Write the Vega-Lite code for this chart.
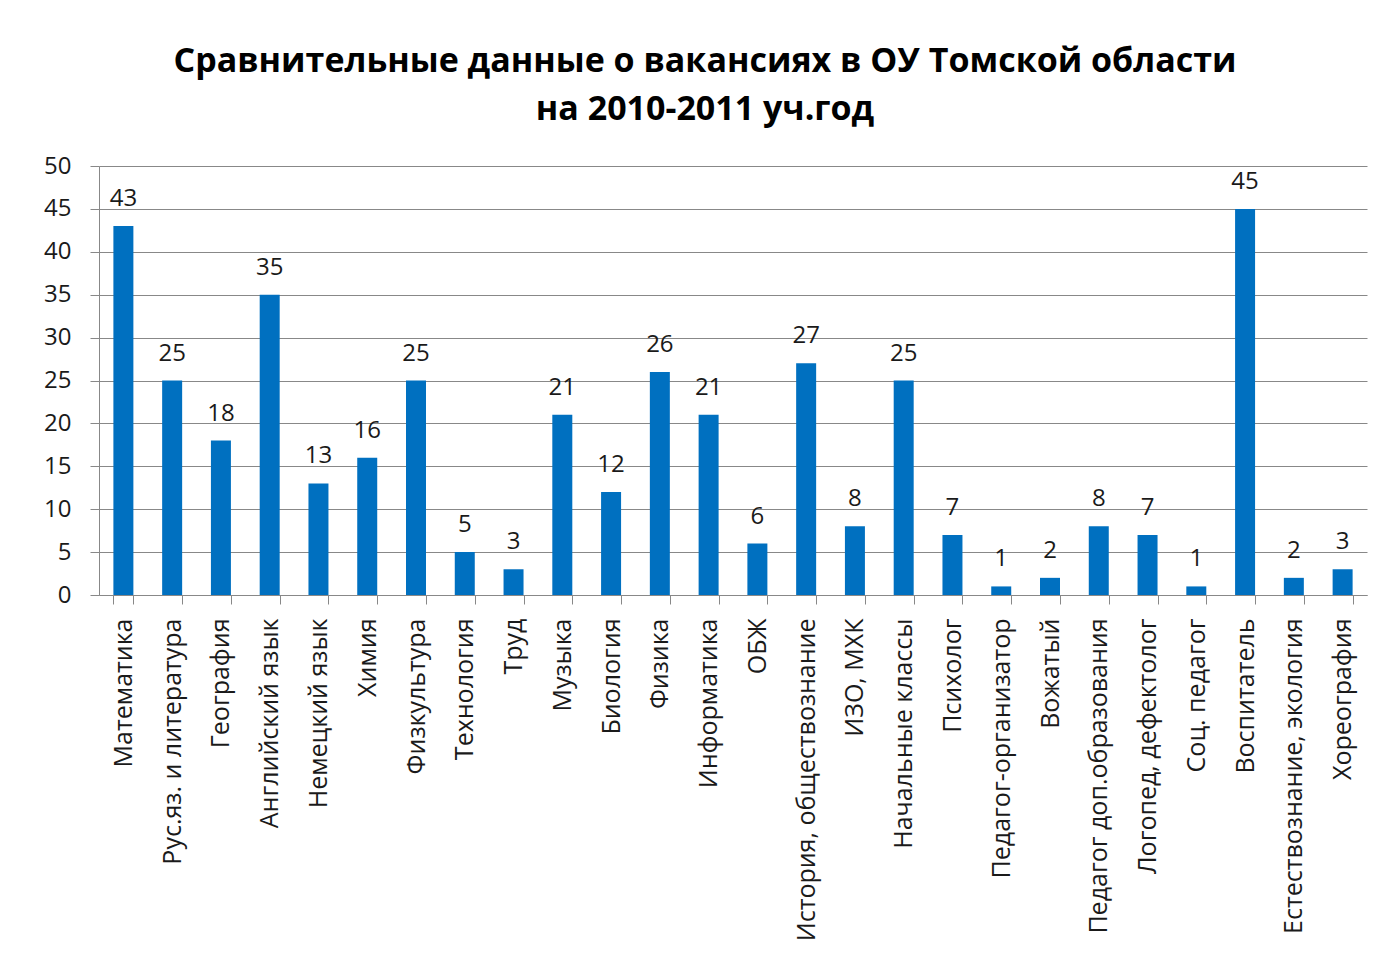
{
  "$schema": "https://vega.github.io/schema/vega-lite/v6.json",
  "autosize": "none",
  "width": 1268,
  "height": 429,
  "padding": {"left": 99, "top": 166, "right": 23, "bottom": 369},
  "background": "white",
  "config": {"view": {"stroke": null}, "font": "Open Sans"},
  "title": {
    "text": ["Сравнительные данные о вакансиях в ОУ Томской области", "на 2010-2011 уч.год"],
    "font": "Open Sans",
    "fontSize": 34,
    "fontWeight": "bold",
    "color": "#000000",
    "lineHeight": 48,
    "offset": 27,
    "dx": -28,
    "anchor": "middle"
  },
  "data": {
    "values": [
      {"subject": "Математика", "value": 43},
      {"subject": "Рус.яз. и литература", "value": 25},
      {"subject": "География", "value": 18},
      {"subject": "Английский язык", "value": 35},
      {"subject": "Немецкий язык", "value": 13},
      {"subject": "Химия", "value": 16},
      {"subject": "Физкультура", "value": 25},
      {"subject": "Технология", "value": 5},
      {"subject": "Труд", "value": 3},
      {"subject": "Музыка", "value": 21},
      {"subject": "Биология", "value": 12},
      {"subject": "Физика", "value": 26},
      {"subject": "Информатика", "value": 21},
      {"subject": "ОБЖ", "value": 6},
      {"subject": "История, обществознание", "value": 27},
      {"subject": "ИЗО, МХК", "value": 8},
      {"subject": "Начальные классы", "value": 25},
      {"subject": "Психолог", "value": 7},
      {"subject": "Педагог-организатор", "value": 1},
      {"subject": "Вожатый", "value": 2},
      {"subject": "Педагог доп.образования", "value": 8},
      {"subject": "Логопед, дефектолог", "value": 7},
      {"subject": "Соц. педагог", "value": 1},
      {"subject": "Воспитатель", "value": 45},
      {"subject": "Естествознание, экология", "value": 2},
      {"subject": "Хореография", "value": 3}
    ]
  },
  "encoding": {
    "x": {
      "field": "subject",
      "type": "nominal",
      "sort": null,
      "scale": {"paddingInner": 0.59, "paddingOuter": 0.295},
      "axis": {
        "title": null,
        "labelAngle": -90,
        "labelAlign": "right",
        "labelBaseline": "middle",
        "labelFontSize": 25,
        "labelColor": "#1a1a1a",
        "labelPadding": 14,
        "labelLimit": 400,
        "tickBand": "extent",
        "tickSize": 9,
        "tickColor": "#888888",
        "domainColor": "#888888",
        "grid": false
      }
    },
    "y": {
      "field": "value",
      "type": "quantitative",
      "scale": {"domain": [0, 50], "nice": false},
      "axis": {
        "title": null,
        "values": [0, 5, 10, 15, 20, 25, 30, 35, 40, 45, 50],
        "labelFontSize": 24,
        "labelColor": "#1a1a1a",
        "labelPadding": 19,
        "tickSize": 9,
        "tickColor": "#888888",
        "domainColor": "#888888",
        "gridColor": "#888888",
        "gridOpacity": 1
      }
    }
  },
  "layer": [
    {"mark": {"type": "bar", "color": "#0070C0"}},
    {
      "mark": {"type": "text", "baseline": "bottom", "dy": -15, "fontSize": 24, "color": "#1a1a1a"},
      "encoding": {"text": {"field": "value", "type": "quantitative"}}
    }
  ]
}
